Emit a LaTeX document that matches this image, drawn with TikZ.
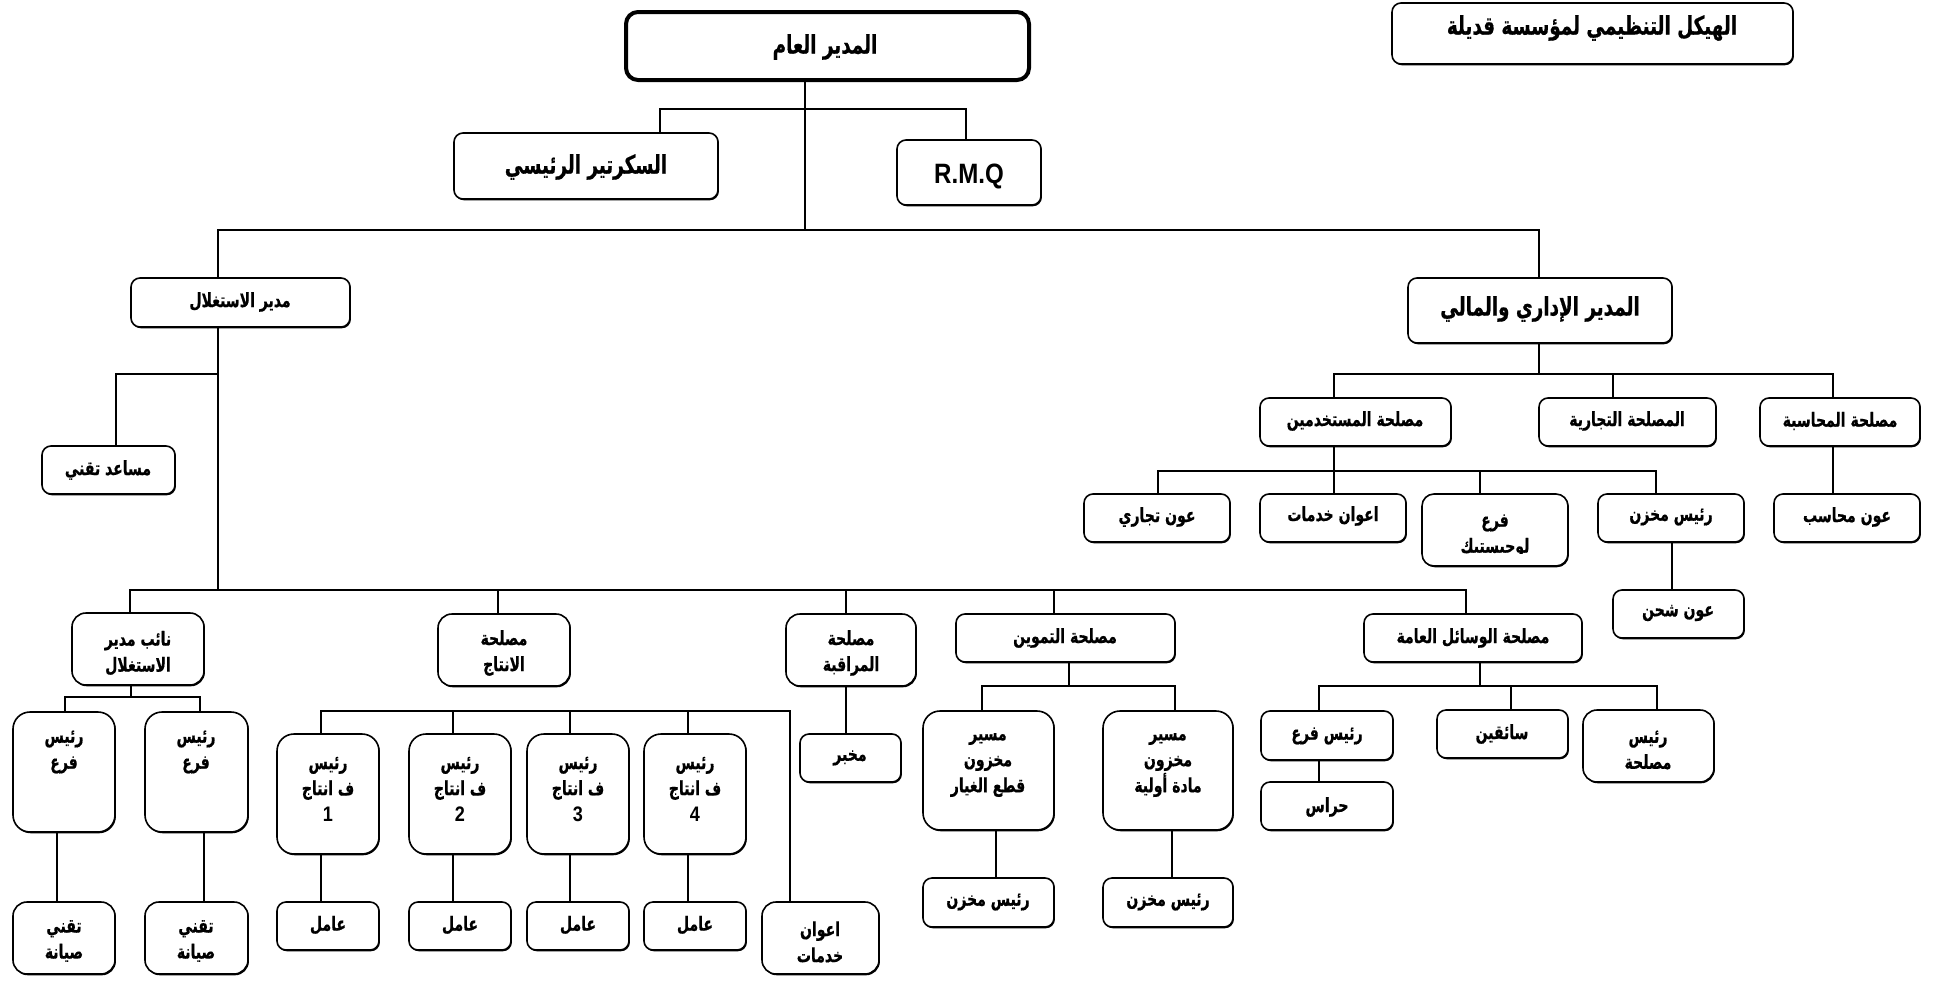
\documentclass[tikz,border=0pt]{standalone}
\usepackage{fontspec}
\usetikzlibrary{shadows}
\setmainfont{Liberation Sans}
\newfontfamily\arfont[Script=Arabic, FakeStretch=0.72, BoldFeatures={FakeBold=0.6}]{DejaVu Sans}
\newfontfamily\latnarrow[FakeStretch=0.86]{Liberation Sans}
\TeXXeTstate=1
\newcommand\AR[1]{{\arfont\bfseries\beginR #1\endR}}
\newcommand\NUM[1]{{\latnarrow\bfseries\fontsize{21}{26}\selectfont #1}}

\tikzset{
  orgbox/.style={draw, line width=1.6pt, rounded corners=9pt, fill=white, inner sep=0pt, outer sep=0pt,
    drop shadow={shadow xshift=0.9pt, shadow yshift=-1.3pt, opacity=1, fill=black}},
  tallbox/.style={orgbox, rounded corners=17pt},
  lbl/.style={inner sep=0pt, align=center, font=\fontsize{19.5}{26}\selectfont},
  biglbl/.style={inner sep=0pt, align=center, font=\fontsize{25.5}{26}\selectfont},
  wire/.style={line width=1.4pt},
  bus/.style={line width=2.2pt},
}
% \obox[style]{name}{x1}{y1}{x2}{y2}
\newcommand\obox[6][orgbox]{%
  \node[#1, minimum width=#5pt-#3pt, minimum height=#6pt-#4pt] (#2) at ({(#3+#5)/2},{(#4+#6)/2}) {};}
% \otext[style]{name}{x}{y}{text}
\newcommand\otext[5][lbl]{\node[#1] (#2) at ({#3},{#4}) {#5};}

\begin{document}
\begin{tikzpicture}[x=1pt, y=-1pt]
\useasboundingbox (0,0) rectangle (1943,985);

% ---- top level ----
\obox[orgbox, line width=4pt, rounded corners=12pt]{gm}{626}{12}{1029}{80}
\otext[biglbl]{gm-t}{825}{47}{\AR{المدير العام}}
\obox{title}{1392}{3}{1793}{64}
\otext[biglbl]{title-t}{1592}{28}{\AR{الهيكل التنظيمي لمؤسسة قديلة}}
\obox{sec}{454}{133}{718}{199}
\otext[biglbl]{sec-t}{586}{167}{\AR{السكرتير الرئيسي}}
\obox{rmq}{897}{140}{1041}{205}
\otext[biglbl]{rmq-t}{969}{176}{\latnarrow\bfseries\fontsize{28}{30}\selectfont R.M.Q}
\obox{exp}{131}{278}{350}{327}
\otext{exp-t}{240}{302}{\AR{مدير الاستغلال}}
\obox{af}{1408}{278}{1672}{343}
\otext[biglbl]{af-t}{1540}{309}{\AR{المدير الإداري والمالي}}

% ---- administration and finance ----
\obox{staff}{1260}{398}{1451}{446}
\otext{staff-t}{1355}{421}{\AR{مصلحة المستخدمين}}
\obox{comm}{1539}{398}{1716}{446}
\otext{comm-t}{1627}{421}{\AR{المصلحة التجارية}}
\obox{acc}{1760}{398}{1920}{446}
\otext{acc-t}{1840}{421}{\AR{مصلحة المحاسبة}}
\obox{agent}{1084}{494}{1230}{542}
\otext{agent-t}{1157}{517}{\AR{عون تجاري}}
\obox{svca}{1260}{494}{1406}{542}
\otext{svca-t}{1333}{516}{\AR{اعوان خدمات}}
\obox[tallbox, rounded corners=12pt]{logi}{1422}{494}{1568}{566}
\begin{scope}
  \clip (1430,500) rectangle (1560,553);
  \otext{logi-t}{1495}{536}{\AR{فرع}\\\AR{لوجيستيك}}
\end{scope}
\obox{store}{1598}{494}{1744}{542}
\otext{store-t}{1671}{517}{\AR{رئيس مخزن}}
\obox{accnt}{1774}{494}{1920}{542}
\otext{accnt-t}{1847}{517}{\AR{عون محاسب}}
\obox{ship}{1613}{590}{1744}{638}
\otext{ship-t}{1678}{613}{\AR{عون شحن}}

% ---- exploitation ----
\obox{asst}{42}{446}{175}{494}
\otext{asst-t}{108}{470}{\AR{مساعد تقني}}
\obox[tallbox, rounded corners=14pt]{deputy}{72}{613}{204}{685}
\otext{deputy-t}{138}{653}{\AR{نائب مدير}\\\AR{الاستغلال}}
\obox[tallbox, rounded corners=14pt]{prod}{438}{614}{570}{686}
\otext{prod-t}{504}{653}{\AR{مصلحة}\\\AR{الانتاج}}
\obox[tallbox, rounded corners=14pt]{ctrl}{786}{614}{916}{686}
\otext{ctrl-t}{851}{653}{\AR{مصلحة}\\\AR{المراقبة}}
\obox{supply}{956}{614}{1175}{662}
\otext{supply-t}{1065}{638}{\AR{مصلحة التموين}}
\obox{general}{1364}{614}{1582}{662}
\otext{general-t}{1473}{638}{\AR{مصلحة الوسائل العامة}}

% maintenance branches
\obox[tallbox]{brL}{13}{712}{115}{832}
\otext{brL-t}{64}{752}{\AR{رئيس}\\\AR{فرع}}
\obox[tallbox]{brR}{145}{712}{248}{832}
\otext{brR-t}{196}{752}{\AR{رئيس}\\\AR{فرع}}
\obox[tallbox, rounded corners=14pt]{techL}{13}{902}{115}{974}
\otext{techL-t}{64}{941}{\AR{تقني}\\\AR{صيانة}}
\obox[tallbox, rounded corners=14pt]{techR}{145}{902}{248}{974}
\otext{techR-t}{196}{941}{\AR{تقني}\\\AR{صيانة}}

% production units
\foreach \n/\xa/\xb in {1/277/379, 2/409/511, 3/527/629, 4/644/746}{
  \obox[tallbox]{pc\n}{\xa}{734}{\xb}{854}
  \otext{pc\n-t}{(\xa+\xb)/2}{789}{\AR{رئيس}\\\AR{ف انتاج}\\\NUM{\n}}
  \obox{w\n}{\xa}{902}{\xb}{950}
  \otext{w\n-t}{(\xa+\xb)/2}{925}{\AR{عامل}}
}
\obox[tallbox, rounded corners=14pt]{svcb}{762}{902}{879}{974}
\otext{svcb-t}{820}{942}{\AR{اعوان}\\\AR{خدمات}}
\obox{lab}{800}{734}{901}{782}
\otext{lab-t}{850}{758}{\AR{مخبر}}

% supply
\obox[tallbox]{spare}{923}{711}{1054}{830}
\otext{spare-t}{988}{765}{\AR{مسير}\\\AR{مخزون}\\\AR{قطع الغيار}}
\obox[tallbox]{raw}{1103}{711}{1233}{830}
\otext{raw-t}{1168}{765}{\AR{مسير}\\\AR{مخزون}\\\AR{مادة أولية}}
\obox{shA}{923}{878}{1054}{927}
\otext{shA-t}{988}{902}{\AR{رئيس مخزن}}
\obox{shB}{1103}{878}{1233}{927}
\otext{shB-t}{1168}{902}{\AR{رئيس مخزن}}

% general services
\obox{bh}{1261}{711}{1393}{760}
\otext{bh-t}{1327}{736}{\AR{رئيس فرع}}
\obox{guards}{1261}{782}{1393}{830}
\otext{guards-t}{1327}{807}{\AR{حراس}}
\obox{drivers}{1437}{710}{1568}{758}
\otext{drivers-t}{1502}{734}{\AR{سائقين}}
\obox[tallbox, rounded corners=14pt]{svch}{1583}{710}{1714}{782}
\otext{svch-t}{1648}{750}{\AR{رئيس}\\\AR{مصلحة}}

% ---- connectors ----
% general manager
\coordinate (t0) at (805,109);
\coordinate (t1) at (660,109);
\coordinate (t2) at (966,109);
\coordinate (m0) at (805,230);
\coordinate (m1) at (218,230);
\coordinate (m2) at (1539,230);
\draw[wire] (gm.south -| t0) -- (m0);
\draw[wire] (t1 |- sec.north) -- (t1) -- (t2) -- (t2 |- rmq.north);
\draw[wire] (m1 |- exp.north) -- (m1) -- (m2) -- (m2 |- af.north);

% administration and finance
\coordinate (a0) at (1539,374);
\coordinate (a1) at (1334,374);
\coordinate (a2) at (1613,374);
\coordinate (a3) at (1833,374);
\draw[wire] (af.south -| a0) -- (a0);
\draw[wire] (a1 |- staff.north) -- (a1) -- (a3) -- (a3 |- acc.north);
\draw[wire] (a2) -- (a2 |- comm.north);
\draw[wire] (acc.south -| a3) -- (a3 |- accnt.north);
\coordinate (s0) at (1334,471);
\coordinate (s1) at (1158,471);
\coordinate (s2) at (1480,471);
\coordinate (s3) at (1656,471);
\draw[wire] (staff.south -| s0) -- (s0);
\draw[wire] (s1 |- agent.north) -- (s1) -- (s3) -- (s3 |- store.north);
\draw[wire] (s0) -- (s0 |- svca.north);
\draw[wire] (s2) -- (s2 |- logi.north);
\coordinate (k0) at (1672,542);
\draw[wire] (store.south -| k0) -- (k0 |- ship.north);

% exploitation
\coordinate (e0) at (218,374);
\coordinate (e1) at (116,374);
\coordinate (b0) at (218,590);
\coordinate (b1) at (130,590);
\coordinate (b2) at (498,590);
\coordinate (b3) at (846,590);
\coordinate (b4) at (1054,590);
\coordinate (b5) at (1466,590);
\draw[wire] (exp.south -| b0) -- (b0);
\draw[wire] (e0) -- (e1) -- (e1 |- asst.north);
\draw[bus] (b1 |- deputy.north) -- (b1) -- (b5) -- (b5 |- general.north);
\draw[wire] (b2) -- (b2 |- prod.north);
\draw[wire] (b3) -- (b3 |- ctrl.north);
\draw[wire] (b4) -- (b4 |- supply.north);

% deputy
\coordinate (d0) at (131,697);
\coordinate (d1) at (65,697);
\coordinate (d2) at (200,697);
\draw[bus] (deputy.south -| d0) -- (d0);
\draw[bus] (d1 |- brL.north) -- (d1) -- (d2) -- (d2 |- brR.north);
\coordinate (d3) at (57,832);
\coordinate (d4) at (204,832);
\draw[wire] (brL.south -| d3) -- (d3 |- techL.north);
\draw[wire] (brR.south -| d4) -- (d4 |- techR.north);

% production
\coordinate (p1) at (321,711);
\coordinate (p2) at (453,711);
\coordinate (p3) at (570,711);
\coordinate (p4) at (688,711);
\coordinate (p5) at (790,711);
\draw[wire] (p1 |- pc1.north) -- (p1) -- (p5) -- (p5 |- svcb.north);
\foreach \i in {2,3,4}{ \draw[wire] (p\i) -- (p\i |- pc\i.north); }
\foreach \i in {1,2,3,4}{ \draw[wire] (pc\i.south -| p\i) -- (p\i |- w\i.north); }

% control
\draw[wire] (ctrl.south -| b3) -- (b3 |- lab.north);

% supply
\coordinate (u0) at (1069,686);
\coordinate (u1) at (982,686);
\coordinate (u2) at (1175,686);
\draw[wire] (supply.south -| u0) -- (u0);
\draw[bus] (u1 |- spare.north) -- (u1) -- (u2) -- (u2 |- raw.north);
\coordinate (u3) at (996,830);
\coordinate (u4) at (1172,830);
\draw[wire] (spare.south -| u3) -- (u3 |- shA.north);
\draw[wire] (raw.south -| u4) -- (u4 |- shB.north);

% general services
\coordinate (g0) at (1480,686);
\coordinate (g1) at (1319,686);
\coordinate (g2) at (1511,686);
\coordinate (g3) at (1657,686);
\draw[wire] (general.south -| g0) -- (g0);
\draw[bus] (g1 |- bh.north) -- (g1) -- (g3) -- (g3 |- svch.north);
\draw[wire] (g2) -- (g2 |- drivers.north);
\draw[wire] (bh.south -| g1) -- (g1 |- guards.north);
\end{tikzpicture}
\end{document}
